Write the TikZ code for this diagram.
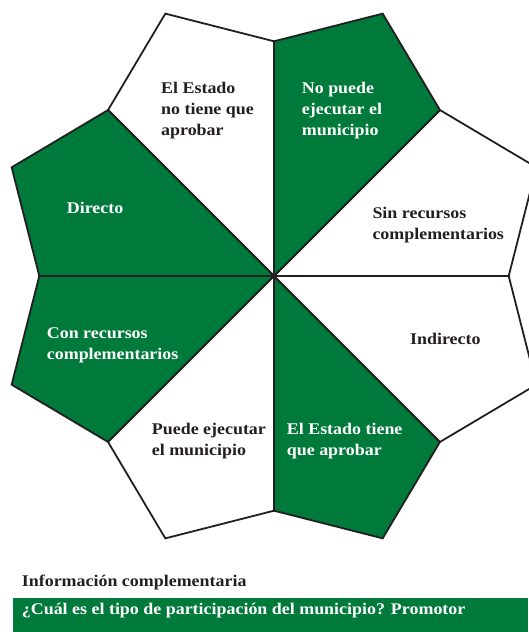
\documentclass[tikz,border=0pt]{standalone}
\usepackage{fontspec}
\setmainfont{Liberation Serif}[FakeStretch=1.1]
\usepackage{tikz}
\usetikzlibrary{calc}
\definecolor{ink}{HTML}{231F20}
\definecolor{leaf}{HTML}{007A3A}

\begin{document}
\begin{tikzpicture}[x=1pt,y=1pt,
  petal/.style={draw=ink,line width=1.8pt,line join=miter},
  txt/.style={anchor=base west,align=left,inner sep=0pt,font=\fontsize{16.3}{21}\selectfont\bfseries},
  dark/.style={txt,text=ink},
  light/.style={txt,text=white}]
\useasboundingbox (0,0) rectangle (528,632);
\coordinate (o) at (274,356);
% eight petals, alternating fill as in the chart
\foreach \a/\c in {0/white,45/leaf,90/white,135/leaf,180/leaf,225/white,270/leaf,315/white}
  \filldraw[petal,fill=\c] (o) -- ($(o)+(\a:234.7)$) -- ($(o)+(\a+22.5:284)$) -- ($(o)+(\a+45:234.7)$) -- cycle;
% labels (anchored at the baseline of their last line)
\node[dark] (noaprob) at (161,496.7) {El Estado\\no tiene que\\aprobar};
\node[light] (noejec) at (301.7,496.7) {No puede\\ejecutar el\\municipio};
\node[light] (directo) at (66.7,418.7) {Directo};
\node[dark] (sinrec) at (372.3,392) {Sin recursos\\complementarios};
\node[light] (conrec) at (46.7,272.7) {Con recursos\\complementarios};
\node[dark] (indirecto) at (410,287) {Indirecto};
\node[dark] (puedeejec) at (151.7,176.5) {Puede ejecutar\\el municipio};
\node[light] (aprob) at (286.7,176.5) {El Estado tiene\\que aprobar};
% footer
\node[dark] (info) at (21.7,45.3) {Información complementaria};
\fill[leaf] (12.7,0) rectangle (528,34.3) coordinate (bar);
\node[light] (tipo) at (21.7,17) {¿Cuál es el tipo de participación del municipio? Promotor};
\end{tikzpicture}
\end{document}
